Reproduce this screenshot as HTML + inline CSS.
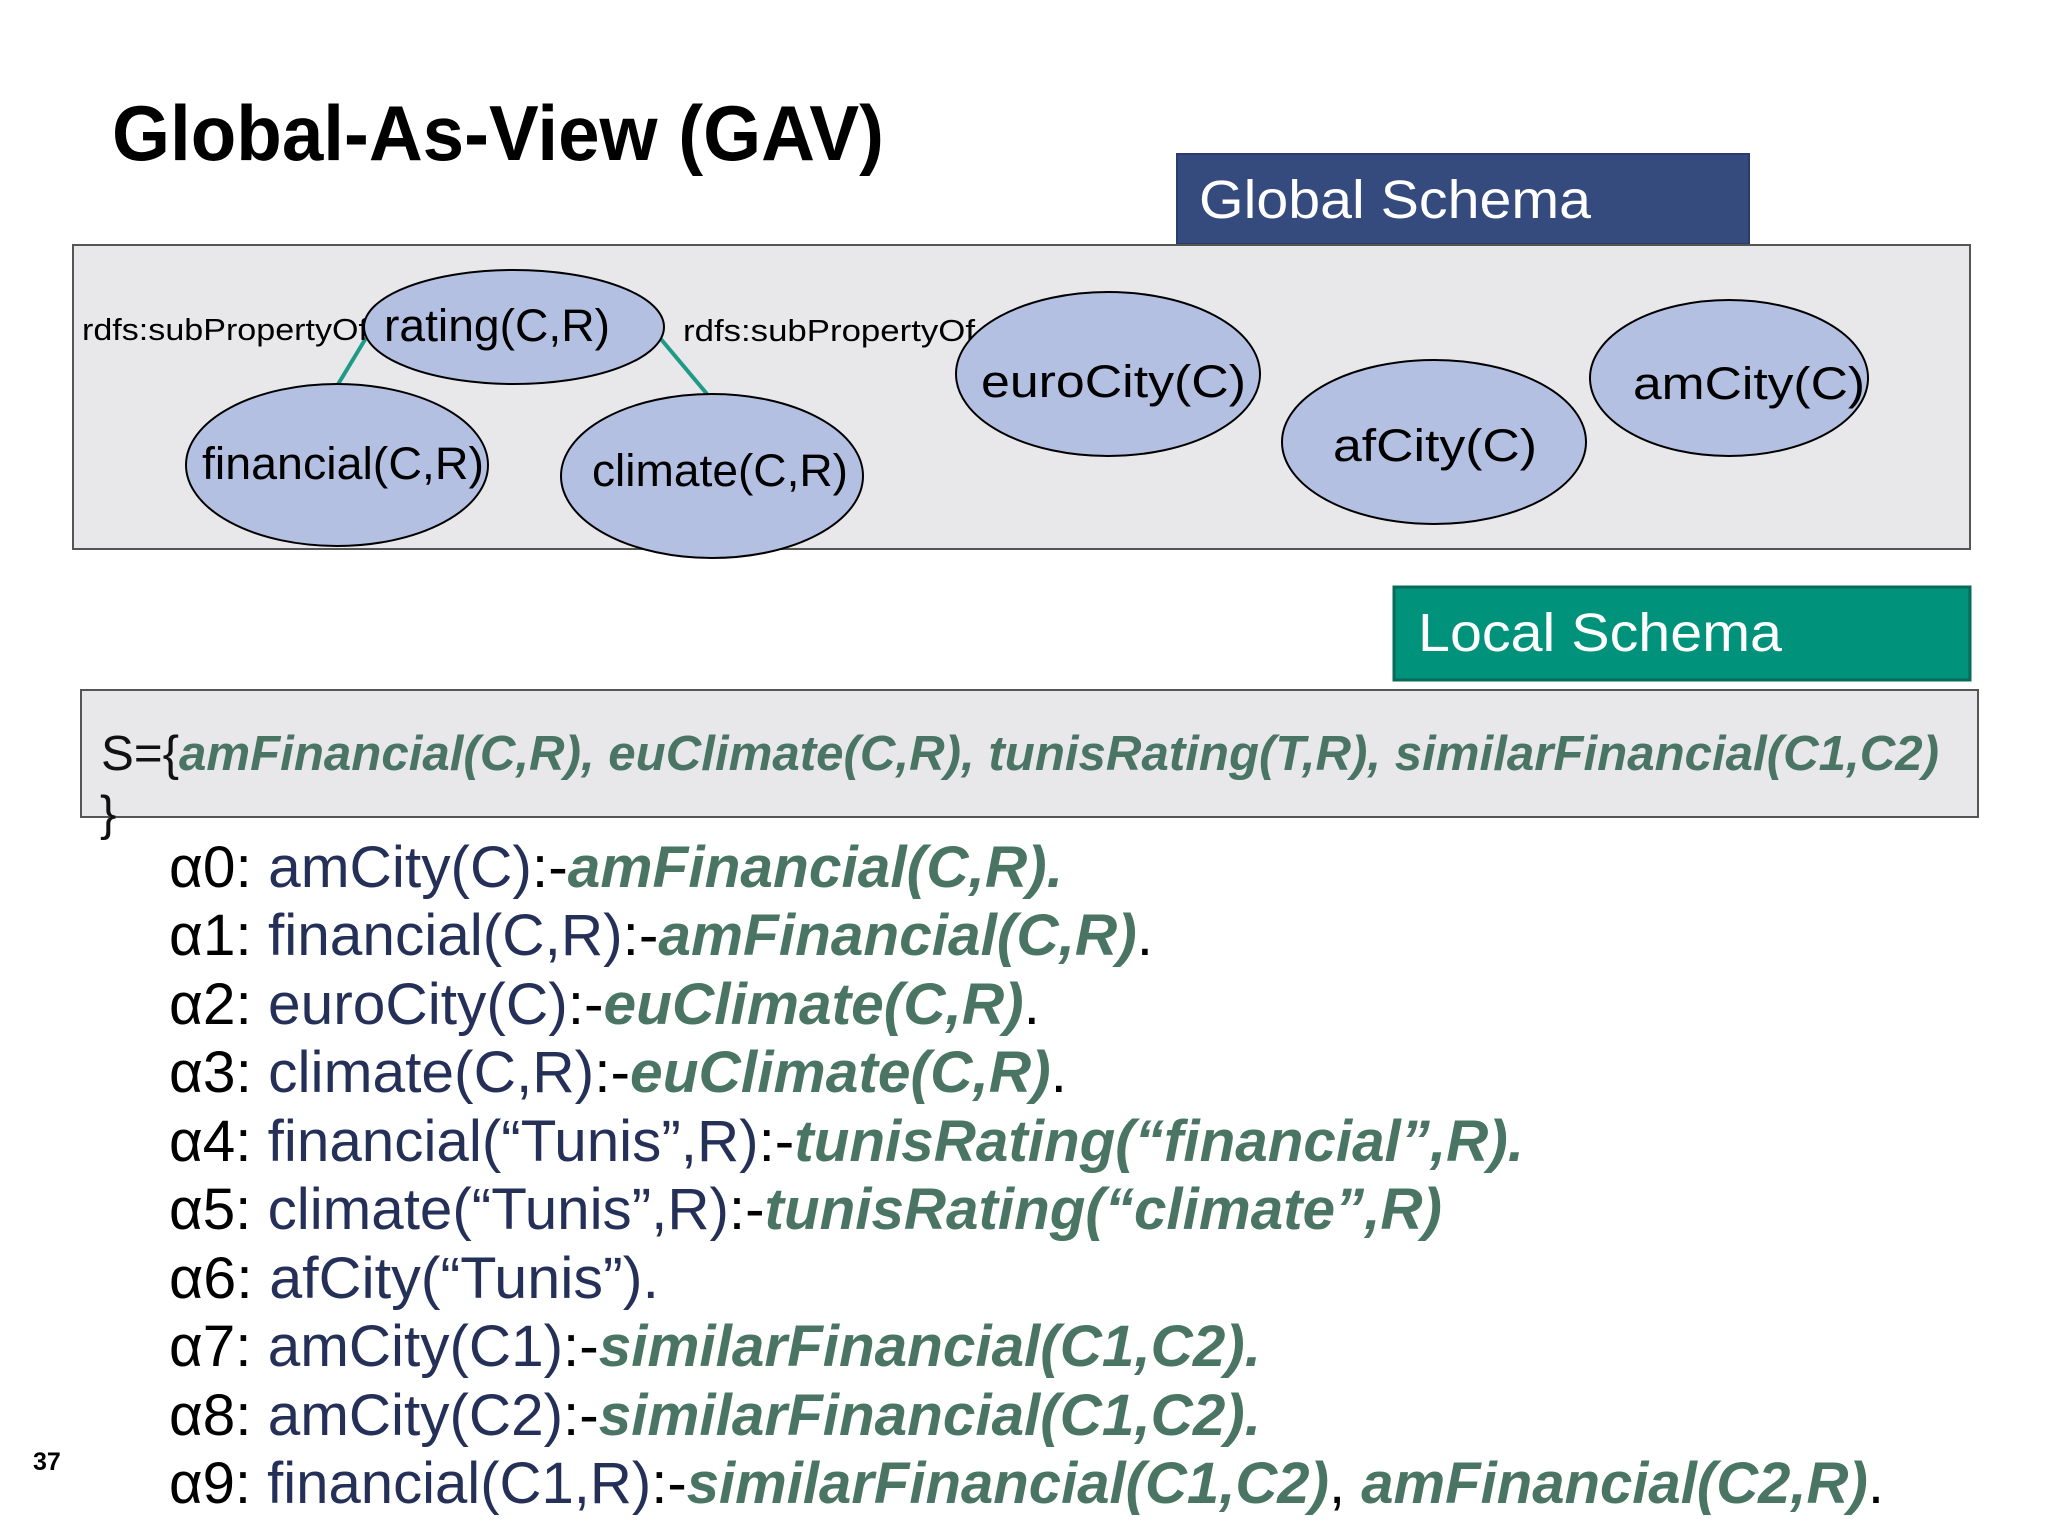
<!DOCTYPE html>
<html><head><meta charset="utf-8"><style>
html,body{margin:0;padding:0;background:#fff;}
svg{display:block;}
text{font-family:"Liberation Sans",Arial,sans-serif;}
</style></head><body>
<svg width="2048" height="1536" viewBox="0 0 2048 1536" xmlns="http://www.w3.org/2000/svg">
<rect width="2048" height="1536" fill="#ffffff"/>
<text x="112" y="160" font-size="78" font-weight="bold" fill="#000" textLength="772" lengthAdjust="spacingAndGlyphs">Global-As-View (GAV)</text>

<rect x="1177" y="154" width="572" height="90" fill="#364b7d" stroke="#2a3c68" stroke-width="2"/>
<text x="1199" y="218" font-size="54" fill="#fff" textLength="392" lengthAdjust="spacingAndGlyphs">Global Schema</text>

<rect x="73" y="245" width="1897" height="304" fill="#e8e8ea" stroke="#555" stroke-width="2"/>

<line x1="366" y1="338" x2="337" y2="386" stroke="#1f9a86" stroke-width="4"/>
<line x1="660" y1="338" x2="707" y2="394" stroke="#1f9a86" stroke-width="4"/>

<text x="82" y="340" font-size="31" fill="#000" textLength="286" lengthAdjust="spacingAndGlyphs">rdfs:subPropertyOf</text>
<text x="683" y="341" font-size="31" fill="#000" textLength="292" lengthAdjust="spacingAndGlyphs">rdfs:subPropertyOf</text>

<g fill="#b3c0e2" stroke="#000" stroke-width="2">
<ellipse cx="514" cy="327" rx="150" ry="57"/>
<ellipse cx="337" cy="465" rx="151" ry="81"/>
<ellipse cx="712" cy="476" rx="151" ry="82"/>
<ellipse cx="1108" cy="374" rx="152" ry="82"/>
<ellipse cx="1434" cy="442" rx="152" ry="82"/>
<ellipse cx="1729" cy="378" rx="139" ry="78"/>
</g>
<g font-size="45" fill="#000">
<text x="384" y="341" textLength="226" lengthAdjust="spacingAndGlyphs">rating(C,R)</text>
<text x="202" y="479" textLength="282" lengthAdjust="spacingAndGlyphs">financial(C,R)</text>
<text x="592" y="486" textLength="256" lengthAdjust="spacingAndGlyphs">climate(C,R)</text>
<text x="981" y="397" textLength="265" lengthAdjust="spacingAndGlyphs">euroCity(C)</text>
<text x="1333" y="461" textLength="204" lengthAdjust="spacingAndGlyphs">afCity(C)</text>
<text x="1633" y="399" textLength="232" lengthAdjust="spacingAndGlyphs">amCity(C)</text>
</g>

<rect x="1394" y="587" width="576" height="93" fill="#00927a" stroke="#0a6a58" stroke-width="3"/>
<text x="1418" y="651" font-size="54" fill="#fff" textLength="364" lengthAdjust="spacingAndGlyphs">Local Schema</text>

<rect x="81" y="690" width="1897" height="127" fill="#e8e8ea" stroke="#555" stroke-width="2"/>
<text x="101" y="770" font-size="49" textLength="1838" lengthAdjust="spacingAndGlyphs"><tspan fill="#111">S={</tspan><tspan fill="#4a7565" font-weight="bold" font-style="italic">amFinancial(C,R), euClimate(C,R), tunisRating(T,R), similarFinancial(C1,C2)</tspan></text>
<text x="100" y="830" font-size="49" fill="#111">}</text>

<g font-size="58">
<text x="169" y="887" textLength="894" lengthAdjust="spacingAndGlyphs"><tspan fill="#000">α0:  </tspan><tspan fill="#253058">amCity(C)</tspan><tspan fill="#000">:-</tspan><tspan fill="#4a7565" font-weight="bold" font-style="italic">amFinancial(C,R).</tspan></text>
<text x="169" y="955" textLength="984" lengthAdjust="spacingAndGlyphs"><tspan fill="#000">α1:  </tspan><tspan fill="#253058">financial(C,R)</tspan><tspan fill="#000">:-</tspan><tspan fill="#4a7565" font-weight="bold" font-style="italic">amFinancial(C,R)</tspan><tspan fill="#000">.</tspan></text>
<text x="169" y="1024" textLength="871" lengthAdjust="spacingAndGlyphs"><tspan fill="#000">α2:  </tspan><tspan fill="#253058">euroCity(C)</tspan><tspan fill="#000">:-</tspan><tspan fill="#4a7565" font-weight="bold" font-style="italic">euClimate(C,R)</tspan><tspan fill="#000">.</tspan></text>
<text x="169" y="1092" textLength="898" lengthAdjust="spacingAndGlyphs"><tspan fill="#000">α3:  </tspan><tspan fill="#253058">climate(C,R)</tspan><tspan fill="#000">:-</tspan><tspan fill="#4a7565" font-weight="bold" font-style="italic">euClimate(C,R)</tspan><tspan fill="#000">.</tspan></text>
<text x="169" y="1161" textLength="1355" lengthAdjust="spacingAndGlyphs"><tspan fill="#000">α4:  </tspan><tspan fill="#253058">financial(“Tunis”,R)</tspan><tspan fill="#000">:-</tspan><tspan fill="#4a7565" font-weight="bold" font-style="italic">tunisRating(“financial”,R).</tspan></text>
<text x="169" y="1229" textLength="1273" lengthAdjust="spacingAndGlyphs"><tspan fill="#000">α5:  </tspan><tspan fill="#253058">climate(“Tunis”,R)</tspan><tspan fill="#000">:-</tspan><tspan fill="#4a7565" font-weight="bold" font-style="italic">tunisRating(“climate”,R)</tspan></text>
<text x="169" y="1298" textLength="490" lengthAdjust="spacingAndGlyphs"><tspan fill="#000">α6:  </tspan><tspan fill="#253058">afCity(“Tunis”).</tspan></text>
<text x="169" y="1366" textLength="1092" lengthAdjust="spacingAndGlyphs"><tspan fill="#000">α7:  </tspan><tspan fill="#253058">amCity(C1)</tspan><tspan fill="#000">:-</tspan><tspan fill="#4a7565" font-weight="bold" font-style="italic">similarFinancial(C1,C2).</tspan></text>
<text x="169" y="1435" textLength="1092" lengthAdjust="spacingAndGlyphs"><tspan fill="#000">α8:  </tspan><tspan fill="#253058">amCity(C2)</tspan><tspan fill="#000">:-</tspan><tspan fill="#4a7565" font-weight="bold" font-style="italic">similarFinancial(C1,C2).</tspan></text>
<text x="169" y="1503" textLength="1715" lengthAdjust="spacingAndGlyphs"><tspan fill="#000">α9:  </tspan><tspan fill="#253058">financial(C1,R)</tspan><tspan fill="#000">:-</tspan><tspan fill="#4a7565" font-weight="bold" font-style="italic">similarFinancial(C1,C2)</tspan><tspan fill="#000">, </tspan><tspan fill="#4a7565" font-weight="bold" font-style="italic">amFinancial(C2,R)</tspan><tspan fill="#000">.</tspan></text>
</g>

<text x="33" y="1470" font-size="25" font-weight="bold" fill="#000">37</text>
</svg>
</body></html>
